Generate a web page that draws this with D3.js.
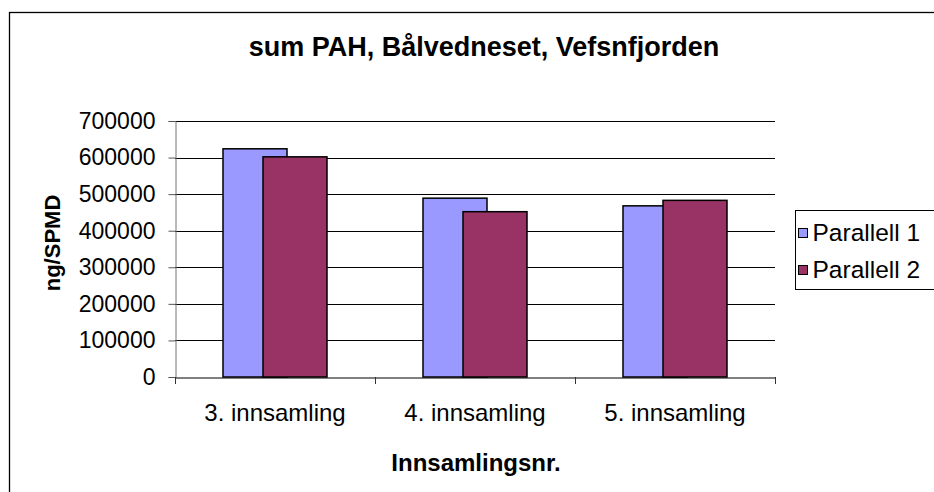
<!DOCTYPE html>
<html>
<head>
<meta charset="utf-8">
<script src="https://cdn.jsdelivr.net/npm/d3@7"></script>
<style>
    body { margin: 0; background: #fff; }
    svg { display: block; font-family: "Liberation Sans", Arial, sans-serif; }
</style>
</head>
<body>
<svg id="chart" width="934" height="492"></svg>
<script>
const categories = ["3. innsamling", "4. innsamling", "5. innsamling"];
const seriesNames = ["Parallell 1", "Parallell 2"];
const parallell1 = [624000, 489000, 468000];
const parallell2 = [602000, 452000, 483000];
const yTicks = [0, 100000, 200000, 300000, 400000, 500000, 600000, 700000];
const colors = ["#9999FF", "#993366"];

const svg = d3.select("#chart");
const plot = { left: 175, right: 775, top: 121, bottom: 377 };
const font = "Liberation Sans, Arial, sans-serif";

// outer chart frame (runs past the window on the right and bottom)
svg.append("rect")
    .attr("x", 9.5).attr("y", 12.5)
    .attr("width", 1000).attr("height", 600)
    .attr("fill", "#fff").attr("stroke", "#000").attr("stroke-width", 1.3);

const x = d3.scaleBand().domain(categories).range([plot.left, plot.right]).padding(0);
const y = d3.scaleLinear().domain([0, 700000]).range([plot.bottom, plot.top]);

// gridlines
svg.append("g")
    .selectAll("line")
    .data(yTicks.slice(1))
    .enter().append("line")
    .attr("x1", plot.left).attr("x2", plot.right)
    .attr("y1", d => Math.round(y(d)) + 0.5).attr("y2", d => Math.round(y(d)) + 0.5)
    .attr("stroke", "#000");

// bars (the two series overlap a little, like the original)
const bw = x.bandwidth();
const barW = bw * 0.32;
const step = bw * 0.2;
const groupW = barW + step;
const data = [parallell1, parallell2];

data.forEach((vals, s) => {
    svg.append("g")
        .selectAll("rect")
        .data(vals)
        .enter().append("rect")
        .attr("x", (d, i) => x(categories[i]) + (bw - groupW) / 2 + s * step)
        .attr("y", d => y(d))
        .attr("width", barW)
        .attr("height", d => y(0) - y(d))
        .attr("fill", colors[s])
        .attr("stroke", "#000")
        .attr("stroke-width", 1.5);
});

// y axis
const yAxis = d3.axisLeft(y).tickValues(yTicks).tickSize(7).tickPadding(13).tickFormat(d3.format("d"));
const gy = svg.append("g")
    .attr("transform", `translate(${plot.left + 0.5},0)`)
    .call(yAxis);
gy.select(".domain").attr("stroke", "#777");
gy.selectAll(".tick line").attr("stroke", "#555");
gy.selectAll(".tick text").attr("font-size", 23).attr("fill", "#000").attr("font-family", font);

// x axis
const xAxis = d3.axisBottom(x).tickSize(0).tickPadding(26);
const gx = svg.append("g")
    .attr("transform", `translate(0,${plot.bottom + 0.5})`)
    .call(xAxis);
gx.select(".domain").attr("stroke", "#000");
gx.selectAll(".tick text").attr("font-size", 24).attr("fill", "#000").attr("font-family", font);

// category separators on x axis
svg.append("g")
    .selectAll("line")
    .data(d3.range(categories.length + 1))
    .enter().append("line")
    .attr("x1", i => plot.left + i * bw + 0.5).attr("x2", i => plot.left + i * bw + 0.5)
    .attr("y1", plot.bottom).attr("y2", plot.bottom + 7)
    .attr("stroke", "#333");

// title and axis titles
svg.append("text")
    .attr("x", 484).attr("y", 56)
    .attr("text-anchor", "middle")
    .attr("font-size", 27).attr("font-weight", "bold")
    .text("sum PAH, Bålvedneset, Vefsnfjorden");

svg.append("text")
    .attr("transform", "translate(60,243) rotate(-90)")
    .attr("text-anchor", "middle")
    .attr("font-size", 22).attr("font-weight", "bold")
    .text("ng/SPMD");

svg.append("text")
    .attr("x", 476).attr("y", 471)
    .attr("text-anchor", "middle")
    .attr("font-size", 24).attr("font-weight", "bold")
    .text("Innsamlingsnr.");

// legend
const legend = svg.append("g").attr("transform", "translate(795.5,210.5)");
legend.append("rect")
    .attr("width", 160).attr("height", 79)
    .attr("fill", "#fff").attr("stroke", "#000");

seriesNames.forEach((name, i) => {
    legend.append("rect")
        .attr("x", 3).attr("y", 18 + i * 37)
        .attr("width", 9).attr("height", 9)
        .attr("fill", colors[i]).attr("stroke", "#000");
    legend.append("text")
        .attr("x", 17).attr("y", 30 + i * 37)
        .attr("font-size", 24.5)
        .text(name);
});
</script>
</body>
</html>
